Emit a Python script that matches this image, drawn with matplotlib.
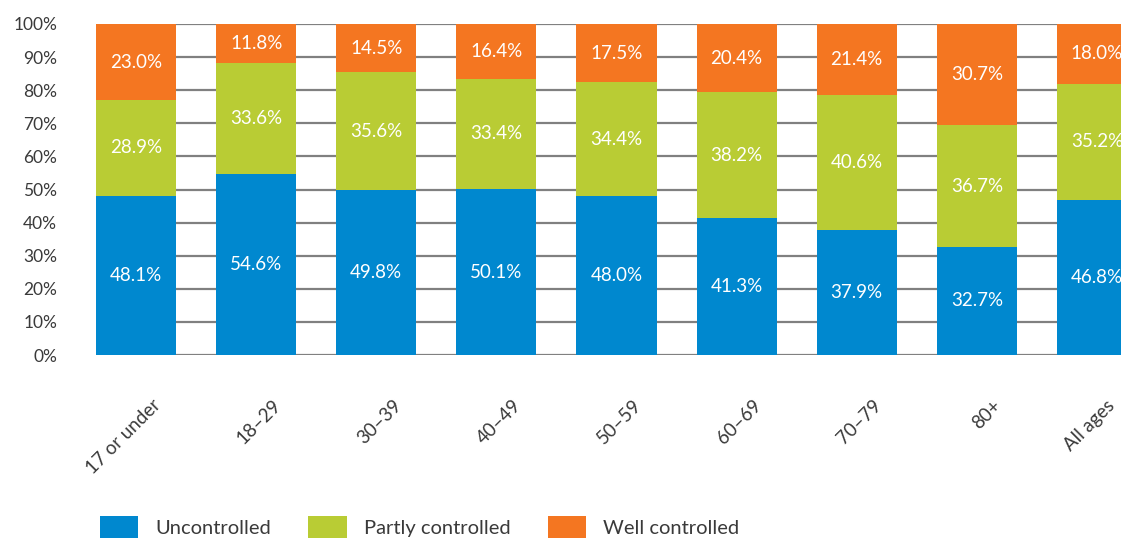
import matplotlib.pyplot as plt
import matplotlib.transforms as mtransforms
from matplotlib.patches import Patch
import numpy as np

plt.rcParams['font.family'] = ['Lato', 'DejaVu Sans']

categories = ['17 or under', '18–29', '30–39', '40–49', '50–59', '60–69', '70–79', '80+', 'All ages']
uncontrolled = [48.1, 54.6, 49.8, 50.1, 48.0, 41.3, 37.9, 32.7, 46.8]
partly = [28.9, 33.6, 35.6, 33.4, 34.4, 38.2, 40.6, 36.7, 35.2]
well = [23.0, 11.8, 14.5, 16.4, 17.5, 20.4, 21.4, 30.7, 18.0]
series_names = ['Uncontrolled', 'Partly controlled', 'Well controlled']
colors = ['#0088cf', '#b9cc34', '#f47621']

fig = plt.figure(figsize=(11.21, 5.41), dpi=100)
ax = fig.add_axes([96 / 1121, 1 - 355 / 541, (1137 - 96) / 1121, (355 - 24) / 541])

x = np.arange(len(categories))
width = 0.667
bottom = np.zeros(len(categories))
for vals, col in zip([uncontrolled, partly, well], colors):
    vals = np.array(vals)
    ax.bar(x, vals, width, bottom=bottom, color=col, zorder=2)
    for xi, b, v in zip(x, bottom, vals):
        ax.text(xi, b + v / 2, f'{v:.1f}%', ha='center', va='center',
                color='white', fontsize=13.5, zorder=3)
    bottom += vals

ax.set_xlim(-width / 2, len(categories) - 1 + width / 2)
ax.set_ylim(0, 100)
ax.set_yticks(np.arange(0, 101, 10))
ax.set_yticklabels([f'{t}%' for t in range(0, 101, 10)])
ax.yaxis.grid(True, color='#808080', lw=1.6)
ax.set_axisbelow(True)
for s in ax.spines.values():
    s.set_visible(False)
ax.tick_params(axis='y', length=0, pad=28, labelsize=12.5, labelcolor='#3a3a3a')
ax.tick_params(axis='x', length=0, pad=30, labelsize=13.5, labelcolor='#3a3a3a')

ax.set_xticks(x)
ax.set_xticklabels(categories, rotation=45, ha='right', rotation_mode='anchor')
labels = ax.get_xticklabels()
for i, lbl in enumerate(labels):
    # last label sits at the right edge; nudge it in so it is not clipped
    dx = 16 if i < len(labels) - 1 else 9
    offset = mtransforms.ScaledTranslation(dx / 100, 0, fig.dpi_scale_trans)
    lbl.set_transform(lbl.get_transform() + offset)

handles = [Patch(facecolor=c, edgecolor='none', label=n) for c, n in zip(colors, series_names)]
fig.legend(handles=handles, loc='lower left', bbox_to_anchor=(0.073, -0.028), ncol=3,
           frameon=False, fontsize=14.5, handlelength=1.9, handleheight=1.3,
           handletextpad=0.85, columnspacing=1.85, labelcolor='#3a3a3a')

fig.savefig('out.png', dpi=100)
